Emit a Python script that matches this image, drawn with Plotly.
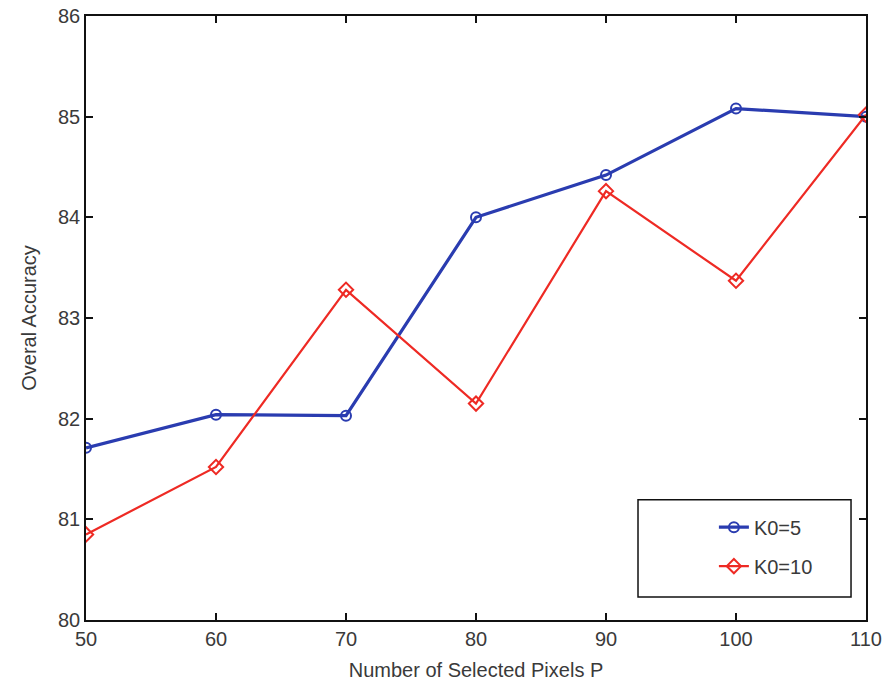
import plotly.graph_objects as go

pixels = [50, 60, 70, 80, 90, 100, 110]
k0_5 = [81.71, 82.04, 82.03, 84.0, 84.42, 85.08, 85.0]
k0_10 = [80.85, 81.52, 83.28, 82.15, 84.26, 83.37, 85.02]

fig = go.Figure()
fig.add_trace(go.Scatter(
    x=pixels, y=k0_5, name="K0=5", mode="lines+markers", legendgroup="a",
    line=dict(color="#2a3cb0", width=3.2),
    marker=dict(symbol="circle-open", size=10, color="#2a3cb0", line=dict(width=2)),
))
fig.add_trace(go.Scatter(
    x=pixels, y=k0_10, name="K0=10", mode="lines+markers", legendgroup="b",
    line=dict(color="#ee2a24", width=2.2),
    marker=dict(symbol="diamond-open", size=11, color="#ee2a24", line=dict(width=2)),
))

axis_common = dict(
    showline=True, linecolor="#111", linewidth=1.5, mirror="ticks",
    ticks="inside", ticklen=7, tickcolor="#111", tickwidth=1.5,
    showgrid=False, zeroline=False, automargin=False,
    tickfont=dict(family="Liberation Sans, Arial", size=20, color="#3a3a3a"),
)

fig.update_layout(
    width=884, height=692,
    margin=dict(l=86, r=18, t=16, b=72),
    paper_bgcolor="white", plot_bgcolor="white",
    font=dict(family="Liberation Sans, Arial", size=20, color="#3a3a3a"),
    xaxis=dict(range=[50, 110], tickvals=[50, 60, 70, 80, 90, 100, 110],
               title=dict(text="Number of Selected Pixels P", standoff=14,
                          font=dict(size=20, color="#3a3a3a")),
               **axis_common),
    yaxis=dict(range=[80, 86], tickvals=[80, 81, 82, 83, 84, 85, 86],
               title=dict(text="Overal Accuracy", standoff=16,
                          font=dict(size=20, color="#3a3a3a")),
               **axis_common),
    legend=dict(x=0.805, y=0.186, xanchor="left", yanchor="top",
                bgcolor="rgba(0,0,0,0)", borderwidth=0,
                font=dict(size=20, color="#3a3a3a"),
                tracegroupgap=10),
    showlegend=True,
    shapes=[dict(type="rect", xref="paper", yref="paper",
                 x0=0.7077, x1=0.9808, y0=0.038, y1=0.199,
                 line=dict(color="#111", width=1.5), fillcolor="white",
                 layer="below")],
)

fig.write_html("out.html")
